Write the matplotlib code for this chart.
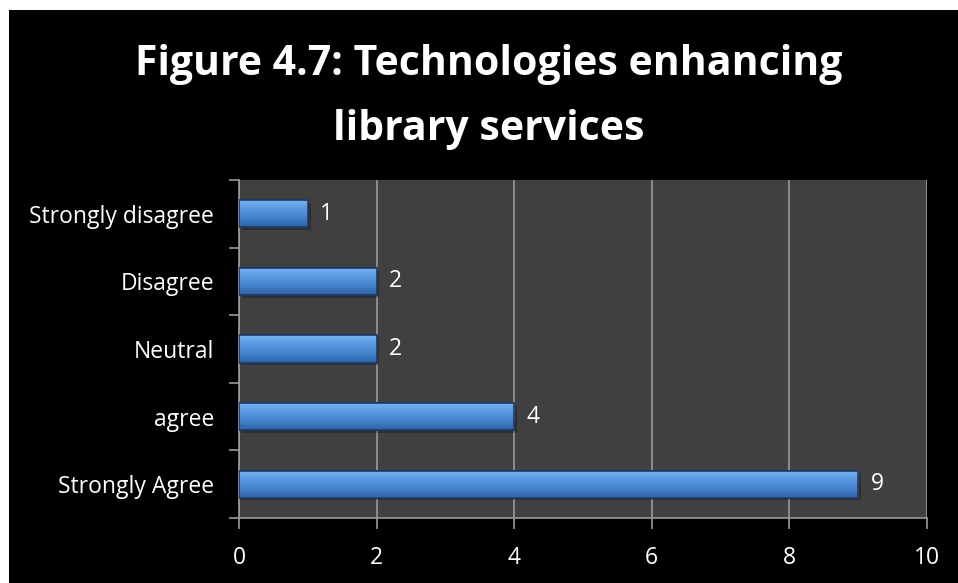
import numpy as np
import matplotlib.pyplot as plt
from matplotlib.patches import Rectangle

categories = ['Strongly Agree', 'agree', 'Neutral', 'Disagree', 'Strongly disagree']
responses = [9, 4, 2, 2, 1]
x_ticks = [0, 2, 4, 6, 8, 10]

plt.rcParams['font.family'] = ['Open Sans', 'DejaVu Sans']

fig = plt.figure(figsize=(9.58, 5.83), dpi=100)
fig.patch.set_facecolor('black')
# thin white strip along the top and left edges
fig.patches.append(Rectangle((0, 1 - 10 / 583), 1, 10 / 583, transform=fig.transFigure,
                             facecolor='white', edgecolor='none'))
fig.patches.append(Rectangle((0, 0), 9 / 958, 1, transform=fig.transFigure,
                             facecolor='white', edgecolor='none'))

ax = fig.add_axes([0.2495, 0.1115, 0.718, 0.5798])
ax.set_facecolor('#404040')

pos = np.arange(len(categories))
bar_h = 0.4
bars = ax.barh(pos, responses, height=bar_h, color='#4a86d0', edgecolor='#1d3a66',
               linewidth=1.2, zorder=3)

# vertical gradient on each bar: row 0 lands on the top edge, so light on top
grad = np.linspace(0, 1, 64).reshape(-1, 1)
cmap = plt.matplotlib.colors.LinearSegmentedColormap.from_list(
    'barblue', ['#7ab4f0', '#5a9ae2', '#4481cc', '#2f63a6'])
for bar, y, v in zip(bars, pos, responses):
    # soft drop shadow
    ax.add_patch(Rectangle((0.04, y - bar_h / 2 - 0.04), v, bar_h, facecolor='black',
                           alpha=0.25, edgecolor='none', zorder=2.5))
    im = ax.imshow(grad, extent=(0, v, y - bar_h / 2, y + bar_h / 2), aspect='auto',
                   cmap=cmap, zorder=3.5, interpolation='bicubic')
    im.set_clip_path(bar)
    ax.add_patch(Rectangle((0, y - bar_h / 2), v, bar_h, facecolor='none',
                           edgecolor='#1d3a66', linewidth=1.2, zorder=4))
    ax.annotate(str(v), (v, y), xytext=(9, 0), textcoords='offset points',
                va='center', ha='left', color='white', fontsize=16.5)

ax.set_xlim(0, 10)
ax.set_ylim(-0.5, len(categories) - 0.5)
ax.set_xticks(x_ticks)
ax.set_xticklabels([str(t) for t in x_ticks])
ax.xaxis.grid(True, color='#9a9a9a', linewidth=1.2, zorder=1)
ax.set_axisbelow(True)

ax.set_yticks(np.arange(-0.5, len(categories), 1))
ax.set_yticklabels([])
ax.set_yticks(pos, minor=True)
ax.set_yticklabels(categories, minor=True)
ax.tick_params(axis='y', which='minor', length=0, pad=18, labelsize=16.5, labelcolor='white')
ax.tick_params(axis='y', which='major', length=7, width=1.2, color='#9a9a9a')
ax.tick_params(axis='x', length=8, width=1.2, color='#9a9a9a', pad=12,
               labelsize=16.5, labelcolor='white')

for side in ['top', 'right']:
    ax.spines[side].set_visible(False)
for side in ['left', 'bottom']:
    ax.spines[side].set_color('#9a9a9a')
    ax.spines[side].set_linewidth(1.2)

title_kw = dict(ha='center', va='baseline', color='white', fontsize=29.5, fontweight='bold')
fig.text(0.510, 1 - 75 / 583, 'Figure 4.7: Technologies enhancing', **title_kw)
fig.text(0.510, 1 - 140 / 583, 'library services', **title_kw)

fig.savefig('out.png', dpi=100, facecolor=fig.get_facecolor())
